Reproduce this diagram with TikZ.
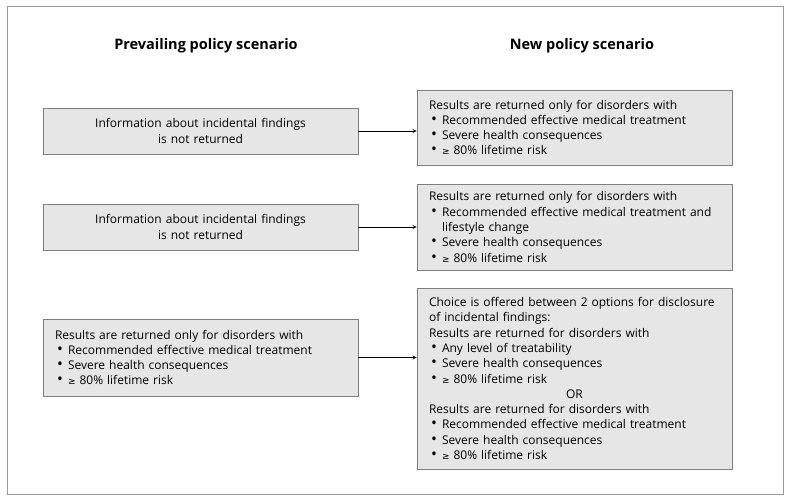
\documentclass[tikz,border=0pt]{standalone}
\usepackage{fontspec}
\setmainfont{Open Sans}
\newfontfamily\dvfont{DejaVu Sans}
\definecolor{boxfill}{HTML}{E6E6E6}
\definecolor{boxline}{HTML}{7F7F7F}
\definecolor{frameline}{HTML}{9A9A9A}
\newcommand{\bul}{\par\hangindent=13pt\hangafter=1\noindent\hspace*{2pt}\makebox[11pt][l]{\scalebox{1.3}{•}}}
\newcommand{\gesym}{{\dvfont\small ≥}}
\begin{document}
\begin{tikzpicture}[x=1pt,y=-1pt,line width=.8pt,>=stealth,
  policybox/.style={draw=boxline,fill=boxfill,inner xsep=12pt,inner ysep=0pt,text width=291pt,
    minimum width=315pt,font=\fontsize{12}{15.3}\selectfont},
  heading/.style={font=\fontsize{14.5}{16}\selectfont\bfseries}]
\useasboundingbox (0,0) rectangle (791,502);
\draw[frameline,line width=1pt] (7,7) rectangle (783,494);
\node[heading] (headprev) at (206,46) {Prevailing policy scenario};
\node[heading] (headnew) at (582,46) {New policy scenario};
% prevailing scenarios
\node[policybox,align=center,minimum height=46pt] (prev1) at (200.5,131) {Information about incidental findings\\is not returned};
\node[policybox,align=center,minimum height=46pt] (prev2) at (200.5,227) {Information about incidental findings\\is not returned};
\node[policybox,minimum height=77pt] (prev3) at (200.5,357.5) {Results are returned only for disorders with
  \bul Recommended effective medical treatment\bul Severe health consequences\bul \gesym{} 80\% lifetime risk};
% new scenarios
\node[policybox,minimum height=75pt] (new1) at (574.5,127.5) {Results are returned only for disorders with
  \bul Recommended effective medical treatment\bul Severe health consequences\bul \gesym{} 80\% lifetime risk};
\node[policybox,minimum height=86pt] (new2) at (574.5,227) {Results are returned only for disorders with
  \bul Recommended effective medical treatment and lifestyle change\bul Severe health consequences\bul \gesym{} 80\% lifetime risk};
\node[policybox,minimum height=181pt] (new3) at (574.5,378.5) {Choice is offered between 2 options for disclosure of incidental findings:\par
  Results are returned for disorders with
  \bul Any level of treatability\bul Severe health consequences\bul \gesym{} 80\% lifetime risk
  \par\centering OR\par\raggedright
  Results are returned for disorders with
  \bul Recommended effective medical treatment\bul Severe health consequences\bul \gesym{} 80\% lifetime risk};
\foreach \i in {1,2,3}{\draw[->] (prev\i.east) -- (prev\i.east -| new\i.west);}
\end{tikzpicture}
\end{document}
